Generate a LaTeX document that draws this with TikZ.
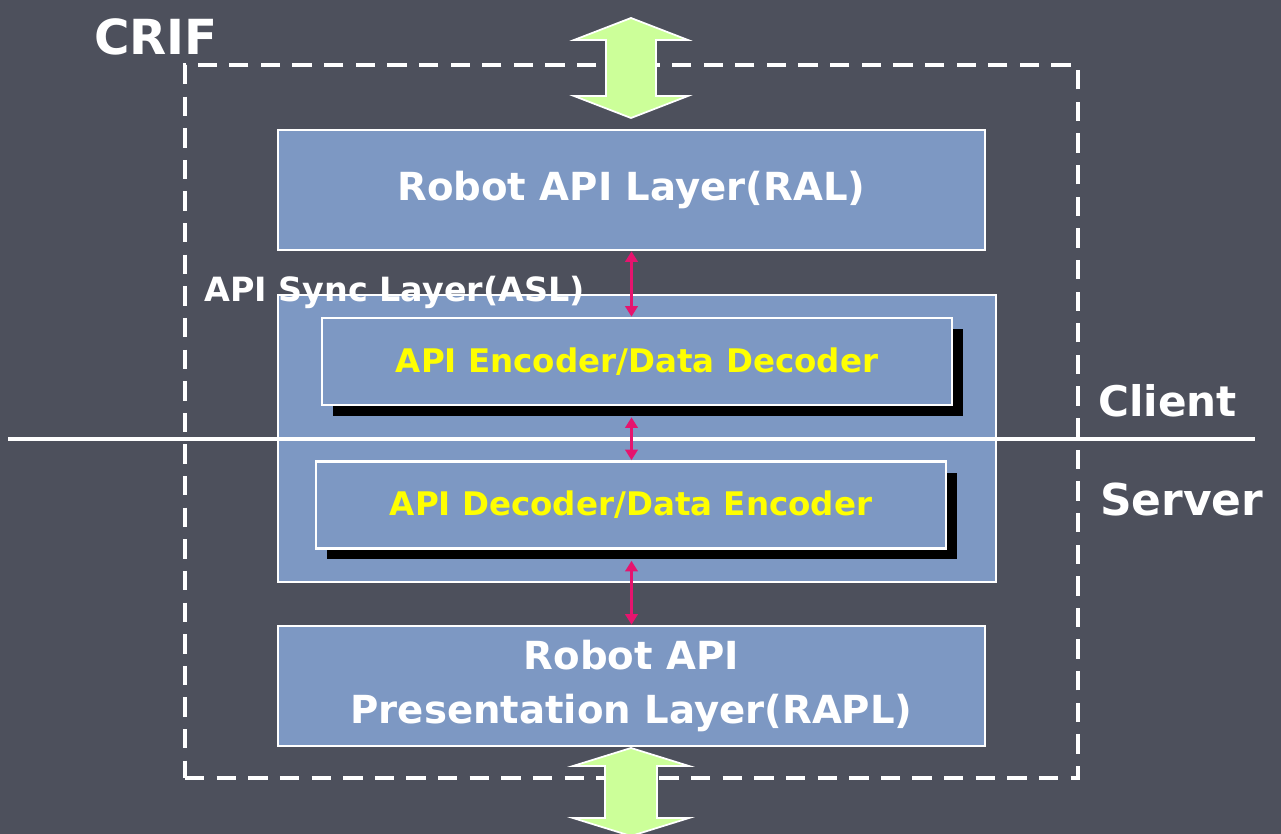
\documentclass[tikz,border=0pt]{standalone}
\usepackage{fontspec}
\setmainfont{DejaVu Sans}
\usetikzlibrary{arrows.meta,positioning,shadows}
\definecolor{slate}{RGB}{77,80,92}
\definecolor{layerblue}{RGB}{125,152,195}
\definecolor{codeyellow}{RGB}{255,255,0}
\definecolor{syncpink}{RGB}{230,20,110}
\definecolor{flowgreen}{RGB}{204,255,153}
\tikzset{
layer/.style={draw=white,line width=1.5pt,fill=layerblue,minimum width=14.14cm,minimum height=2.4cm,align=center,text=white,font=\bfseries\fontsize{22}{31}\selectfont},
syncbox/.style={draw=white,line width=1.5pt,fill=layerblue,minimum width=14.36cm,minimum height=5.74cm},
coder/.style={draw=white,line width=1.5pt,fill=layerblue,minimum width=12.6cm,minimum height=1.74cm,text=codeyellow,font=\bfseries\fontsize{18.5}{22}\selectfont,drop shadow={shadow xshift=0.22cm,shadow yshift=-0.22cm,fill=black,opacity=1}},
frame/.style={draw=white,line width=2.3pt,dash pattern=on 11pt off 7pt,minimum width=17.86cm,minimum height=14.26cm},
label/.style={text=white,font=\bfseries\fontsize{24}{30}\selectfont},
updown/.style={draw=white,line width=1pt,fill=flowgreen,line join=miter},
sync/.style={{Triangle[length=6pt,width=7pt]}-{Triangle[length=6pt,width=7pt]},draw=syncpink,line width=2pt},
divider/.style={draw=white,line width=2pt}
}
\begin{document}
\begin{tikzpicture}[x=0.02cm,y=-0.02cm]
\fill[slate] (0,0) rectangle (1281,834);
\useasboundingbox (0,0) rectangle (1281,834);
% outer CRIF frame
\node[frame](crif) at (631.5,421.5){};
\node[label,anchor=west,font=\bfseries\fontsize{27.5}{30}\selectfont](crifl) at (88,37){CRIF};
% layers
\node[layer](ral) at (631.5,190){Robot API Layer(RAL)};
\node[syncbox](asl) at (637,438.5){};
\node[label,anchor=west,font=\bfseries\fontsize{19}{24}\selectfont](asll) at (198,292){API Sync Layer(ASL)};
\node[coder](enc) at (637,361.5){API Encoder/Data Decoder};
\node[coder](dec) at (631,505){API Decoder/Data Encoder};
\node[layer](rapl) at (631.5,686){Robot API\\Presentation Layer(RAPL)};
% client / server split
\coordinate (cutl) at (8,439);
\coordinate (cutr) at (1255,439);
\draw[divider](cutl)--(cutr);
\node[label,anchor=west](client) at (1092,401){Client};
\node[label,anchor=west,font=\bfseries\fontsize{25}{30}\selectfont](server) at (1094,500){Server};
% in and out
\coordinate (top) at (631,68);
\coordinate (bottom) at (631,792);
\draw[updown](top)++(0,-50)--++(57,22)--++(-32,0)--++(0,56)--++(32,0)--++(-57,22)
  --++(-57,-22)--++(32,0)--++(0,-56)--++(-32,0)--cycle;
\draw[updown](bottom)++(0,-44)--++(58,18)--++(-32,0)--++(0,52)--++(32,0)--++(-58,18)
  --++(-58,-18)--++(32,0)--++(0,-52)--++(-32,0)--cycle;
% sync arrows
\draw[sync](ral.south)--(ral.south |- enc.north);
\draw[sync]([yshift=-0.22cm]ral.south |- enc.south)--(ral.south |- dec.north);
\draw[sync]([yshift=-0.22cm]ral.south |- dec.south)--(rapl.north);
\end{tikzpicture}
\end{document}
